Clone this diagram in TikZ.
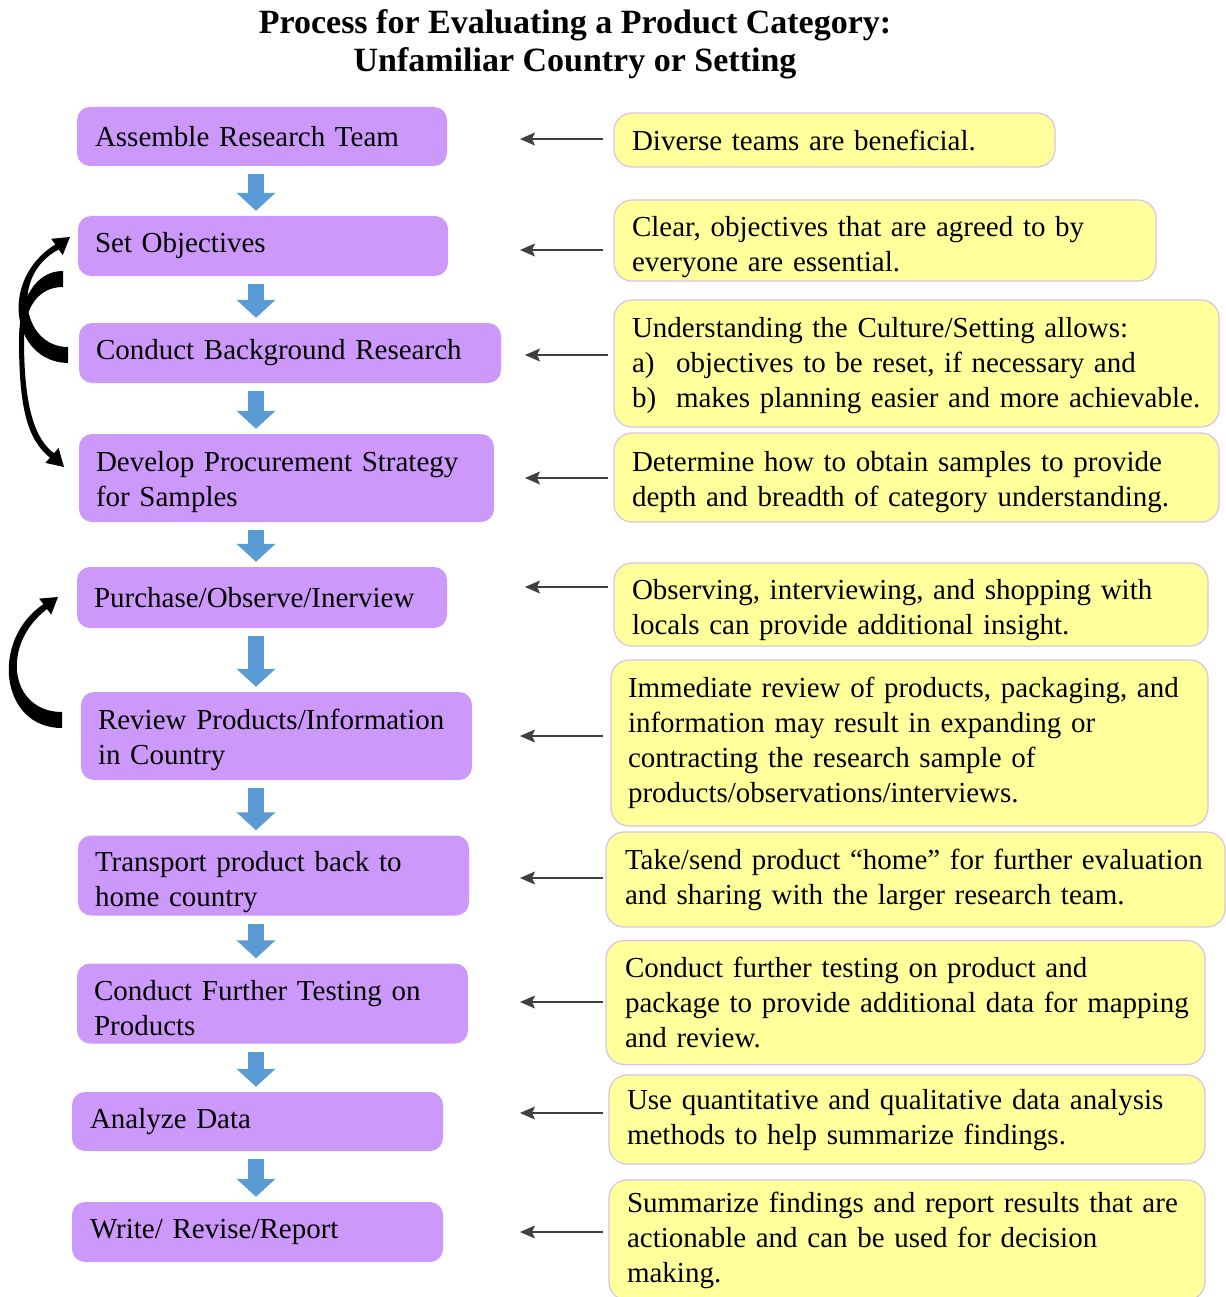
\documentclass[tikz,border=0pt]{standalone}
\usepackage{fontspec}
\setmainfont{Liberation Serif}
\usetikzlibrary{arrows.meta,calc}
\definecolor{boxpurple}{RGB}{204,153,250}
\definecolor{noteyellow}{RGB}{255,255,155}
\definecolor{noteedge}{RGB}{214,196,226}
\definecolor{flowblue}{RGB}{91,155,213}
\newcommand\diagfont{\fontsize{29}{35}\selectfont}
\newcommand\oneline[1]{\mbox{#1}}
\newcommand\lowerby[1]{\rule{0pt}{\dimexpr 20pt+2\dimexpr #1\relax\relax}}
\begin{document}
\begin{tikzpicture}[x=1pt,y=-1pt,
  stepbox/.style={fill=boxpurple, rounded corners=13pt, inner ysep=0pt, align=left, font=\diagfont},
  note/.style={fill=noteyellow, draw=noteedge, line width=1.2pt, rounded corners=18pt, inner ysep=0pt, align=left, font=\diagfont},
  bluearrow/.style={draw=flowblue, line width=16pt, -{Triangle[width=38pt,length=18pt]}},
  thinarrow/.style={draw=black!75, line width=1.3pt, -{Stealth[length=15pt,width=13pt,inset=3pt]}},
  loopfill/.style={fill=black}]
\useasboundingbox[fill=white] (0,0) rectangle (1225,1297);

% title
\node[font=\fontsize{34}{38}\selectfont\bfseries, align=center] (title) at (575,44)
  {Process for Evaluating a Product Category:\\Unfamiliar Country or Setting};

% process steps
\node[stepbox, text width=334pt, inner xsep=18pt, minimum height=59pt] (p1) at (262,136.5) {\oneline{Assemble Research Team}};
\node[stepbox, text width=336pt, inner xsep=17pt, minimum height=60pt] (p2) at (263,246) {\oneline{Set Objectives}};
\node[stepbox, text width=388pt, inner xsep=17pt, minimum height=60pt] (p3) at (290,353) {\oneline{Conduct Background Research}};
\node[stepbox, text width=381pt, inner xsep=17pt, minimum height=88pt] (p4) at (286.5,478) {\oneline{\lowerby{4pt}Develop Procurement Strategy}\\\oneline{for Samples}};
\node[stepbox, text width=336pt, inner xsep=17pt, minimum height=61pt] (p5) at (262,597.5) {\oneline{Purchase/Observe/Inerview}};
\node[stepbox, text width=357pt, inner xsep=17pt, minimum height=88pt] (p6) at (276.5,736) {\oneline{\lowerby{4pt}Review Products/Information}\\\oneline{in Country}};
\node[stepbox, text width=357pt, inner xsep=17pt, minimum height=80pt] (p7) at (273.5,875.5) {\oneline{\lowerby{7pt}Transport product back to}\\\oneline{home country}};
\node[stepbox, text width=357pt, inner xsep=17pt, minimum height=80pt] (p8) at (272.5,1003.5) {\oneline{\lowerby{5pt}Conduct Further Testing on}\\\oneline{Products}};
\node[stepbox, text width=335pt, inner xsep=18pt, minimum height=59pt] (p9) at (257.5,1121.5) {\oneline{Analyze Data}};
\node[stepbox, text width=335pt, inner xsep=18pt, minimum height=60pt] (p10) at (257.5,1232) {\oneline{Write/ Revise/Report}};

% notes
\node[note, text width=405pt, inner xsep=18pt, minimum height=54pt] (y1) at (834.5,140) {\oneline{Diverse teams are beneficial.}};
\node[note, text width=506pt, inner xsep=18pt, minimum height=81pt] (y2) at (885,240.5) {\oneline{\lowerby{7pt}Clear, objectives that are agreed to by}\\\oneline{everyone are essential.}};
\node[note, text width=569pt, inner xsep=18pt, minimum height=127pt] (y3) at (916.5,363.5) {\oneline{\lowerby{2.5pt}Understanding the Culture/Setting allows:}\\\oneline{\makebox[44pt][l]{a)}objectives to be reset, if necessary and}\\\oneline{\makebox[44pt][l]{b)}makes planning easier and more achievable.}};
\node[note, text width=569pt, inner xsep=18pt, minimum height=89pt] (y4) at (916.5,477.5) {\oneline{\lowerby{4.5pt}Determine how to obtain samples to provide}\\\oneline{depth and breadth of category understanding.}};
\node[note, text width=558pt, inner xsep=18pt, minimum height=83pt] (y5) at (911,604.5) {\oneline{\lowerby{6pt}Observing, interviewing, and shopping with}\\\oneline{locals can provide additional insight.}};
\node[note, text width=563pt, inner xsep=17pt, minimum height=166pt] (y6) at (909.5,743) {\oneline{Immediate review of products, packaging, and}\\\oneline{information may result in expanding or}\\\oneline{contracting the research sample of}\\\oneline{products/observations/interviews.}};
\node[note, text width=581pt, inner xsep=19pt, minimum height=95pt] (y7) at (915.5,879.5) {\oneline{Take/send product “home” for further evaluation}\\\oneline{and sharing with the larger research team.}};
\node[note, text width=561pt, inner xsep=19pt, minimum height=124pt] (y8) at (905.5,1002.5) {\oneline{Conduct further testing on product and}\\\oneline{package to provide additional data for mapping}\\\oneline{and review.}};
\node[note, text width=560pt, inner xsep=18pt, minimum height=89pt] (y9) at (907,1119.5) {\oneline{\lowerby{1pt}Use quantitative and qualitative data analysis}\\\oneline{methods to help summarize findings.}};
\node[note, text width=560pt, inner xsep=18pt, minimum height=120pt] (y10) at (907,1240) {\oneline{Summarize findings and report results that are}\\\oneline{actionable and can be used for decision}\\\oneline{making.}};

% blue flow arrows
\coordinate (ax) at (256,0);
\foreach \a/\b in {p1/p2,p2/p3,p3/p4,p4/p5,p5/p6,p6/p7,p7/p8,p8/p9,p9/p10}
  \draw[bluearrow] ($(\a.south -| ax)+(0,8)$) -- ($(\b.north -| ax)+(0,-5)$);

% thin arrows from notes
\foreach \i/\sx/\tx/\yy in {1/603/520/139, 2/603/520/250, 3/608/525/355, 4/608/525/478, 5/608/525/587, 6/603/520/736, 7/603/520/878, 8/603/520/1002, 9/603/520/1113, 10/603/520/1232}{
  \coordinate (s\i) at (\sx,\yy);
  \coordinate (t\i) at (\tx,\yy);
  \draw[thinarrow] (s\i) -- (t\i);
}

% curved feedback arrows
% Conduct Background Research -> Set Objectives
\fill[loopfill] (68,363) .. controls (12,362) and (-2,280) .. (55.3,244.5) -- (51.3,238.8) -- (70,237) -- (62.7,255.2) -- (58.7,249.5) .. controls (10,275) and (22,347) .. (68,347) -- cycle;
% Set Objectives -> Develop Procurement Strategy
\fill[loopfill] (63,271) .. controls (35,271) and (19,300) .. (19,340) .. controls (19,410) and (28,440) .. (50,457.7) -- (45.4,462.9) -- (64,467) -- (58.6,447.9) -- (54,453.2) .. controls (36,440) and (24,410) .. (24,340) .. controls (24,308) and (38,287) .. (63,287) -- cycle;
% Review Products -> Purchase/Observe/Inerview
\fill[loopfill] (62,728) .. controls (0,728) and (-10,640) .. (43.4,604.2) -- (39.2,598.6) -- (58,597) -- (51.2,614.6) -- (47,609) .. controls (0,645) and (10,712) .. (62,712) -- cycle;
\end{tikzpicture}
\end{document}
